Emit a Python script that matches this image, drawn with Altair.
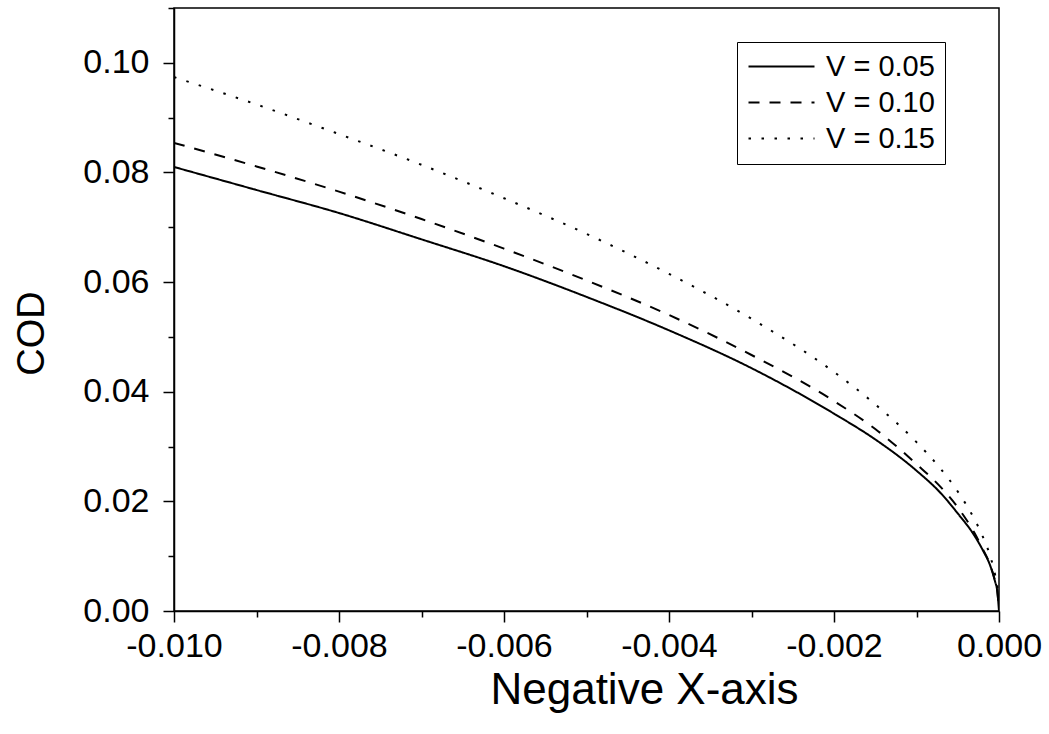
import altair as alt
import pandas as pd

# Position along the negative x-axis
x_vals = [-0.010, -0.009, -0.008, -0.007, -0.006, -0.005, -0.004, -0.003,
          -0.002, -0.0015, -0.001, -0.0007, -0.0005, -0.0003, -0.0002,
          -0.0001, -0.00005, -0.00002, 0.0]

# Crack opening displacement for each V
cod_v005 = [0.0810, 0.0768, 0.0726, 0.0678, 0.0629, 0.0573, 0.0512, 0.0443,
            0.0360, 0.0313, 0.0256, 0.0214, 0.0178, 0.0138, 0.0112,
            0.0080, 0.0055, 0.0035, 0.0]
cod_v010 = [0.0854, 0.0811, 0.0765, 0.0715, 0.0661, 0.0603, 0.0540, 0.0467,
            0.0383, 0.0332, 0.0268, 0.0225, 0.0189, 0.0143, 0.0114,
            0.0081, 0.0056, 0.0036, 0.0]
cod_v015 = [0.0974, 0.0924, 0.0870, 0.0814, 0.0753, 0.0688, 0.0615, 0.0533,
            0.0436, 0.0377, 0.0308, 0.0258, 0.0218, 0.0168, 0.0137,
            0.0097, 0.0068, 0.0043, 0.0]

series_names = ["V = 0.05", "V = 0.10", "V = 0.15"]
series_dash = [[1, 0], [11, 10], [2.5, 10.5]]

x_ticks = [round(-0.010 + 0.001 * i, 3) for i in range(11)]
y_ticks = [round(0.01 * i, 2) for i in range(12)]

rows = []
for name, values in zip(series_names, [cod_v005, cod_v010, cod_v015]):
    for xv, yv in zip(x_vals, values):
        rows.append({"x": xv, "cod": yv, "V": name})
df = pd.DataFrame(rows)

FONT = "Liberation Sans"

x_axis = alt.Axis(
    values=x_ticks,
    labelExpr="round(datum.value*1000) % 2 == 0 ? replace(format(datum.value, '.3f'), '\u2212', '-') : ''",
    tickSize={"condition": {"test": "round(datum.value*1000) % 2 == 0", "value": 11}, "value": 6},
    labelFontSize=34, labelFont=FONT, labelColor="black", labelPadding=7,
    labelFlush=False, labelOverlap=False,
    title="Negative X-axis", titleFontSize=44, titleFont=FONT,
    titleFontWeight="normal", titleColor="black",
    titleX=470, titleY=92, titleBaseline="alphabetic", titleAnchor="middle",
    grid=False, domainColor="black", domainWidth=1.5,
    tickColor="black", tickWidth=1.5,
)

y_axis = alt.Axis(
    values=y_ticks,
    labelExpr="round(datum.value*100) % 2 == 0 ? format(datum.value, '.2f') : ''",
    tickSize={"condition": {"test": "round(datum.value*100) % 2 == 0", "value": 11}, "value": 6},
    labelFontSize=34, labelFont=FONT, labelColor="black", labelPadding=14,
    labelFlush=False, labelOverlap=False,
    title="COD", titleFontSize=38, titleFont=FONT,
    titleFontWeight="normal", titleColor="black",
    titleX=-131, titleY=325, titleBaseline="alphabetic", titleAlign="center",
    titleAngle=-90,
    grid=False, domainColor="black", domainWidth=1.5,
    tickColor="black", tickWidth=1.5,
)

# Legend key: a horizontal line sample drawn as a custom symbol path
legend = alt.Legend(
    title=None, orient="none", legendX=563, legendY=34,
    symbolType="M-1.3,0H5.3", symbolSize=400, symbolStrokeWidth=2,
    symbolStrokeColor="black", symbolFillColor="transparent",
    labelFontSize=29, labelFont=FONT, labelColor="black", labelOffset=50,
    rowPadding=6, padding=10,
    strokeColor="black", fillColor="white",
)

chart = (
    alt.Chart(df)
    .mark_line(color="black", strokeWidth=2, interpolate="monotone", clip=True)
    .encode(
        x=alt.X("x:Q", scale=alt.Scale(domain=[-0.010, 0.0], nice=False, zero=False), axis=x_axis),
        y=alt.Y("cod:Q", scale=alt.Scale(domain=[0.0, 0.11], nice=False), axis=y_axis),
        strokeDash=alt.StrokeDash(
            "V:N",
            scale=alt.Scale(domain=series_names, range=series_dash),
            sort=series_names,
            legend=legend,
        ),
        detail="V:N",
    )
    .properties(
        width=825, height=603,
        autosize=alt.AutoSizeParams(type="none"),
        padding={"left": 174, "top": 8, "right": 50, "bottom": 123},
        background="white",
    )
    .configure_view(stroke="black", strokeWidth=1.5)
)

chart.save("out.html", embed_options={"renderer": "svg", "actions": False})
